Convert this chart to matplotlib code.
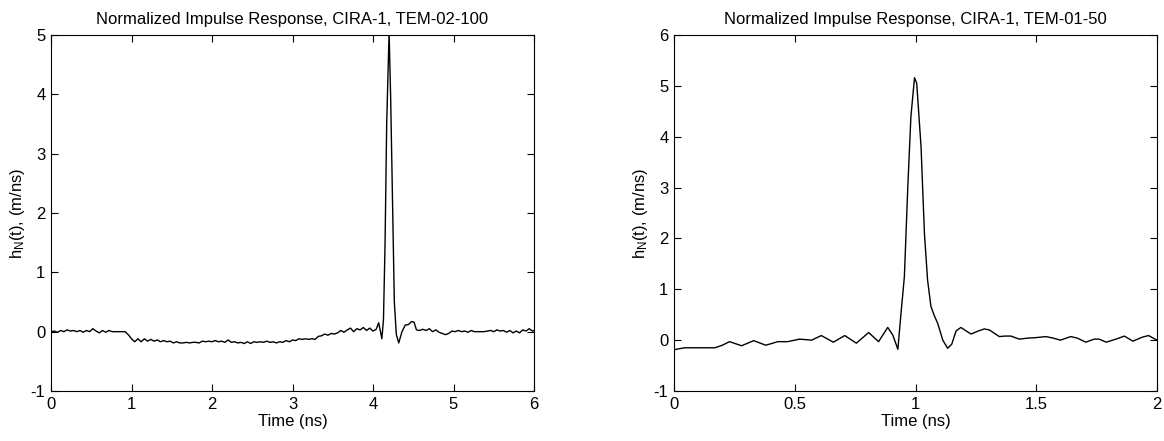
import matplotlib.pyplot as plt
from matplotlib.ticker import FormatStrFormatter

plt.rcParams['font.family'] = ['Liberation Sans', 'DejaVu Sans']
plt.rcParams['mathtext.fontset'] = 'custom'
plt.rcParams['mathtext.rm'] = 'Liberation Sans'
plt.rcParams['mathtext.it'] = 'Liberation Sans'
plt.rcParams['axes.unicode_minus'] = False

# TEM-02-100 impulse response
t_100 = [0.00, 0.04, 0.08, 0.12, 0.16, 0.20, 0.24, 0.28, 0.32, 0.36, 0.40, 0.44,
         0.48, 0.52, 0.56, 0.60, 0.64, 0.68, 0.72, 0.76, 0.80, 0.84, 0.88, 0.92,
         0.96, 1.00, 1.04, 1.08, 1.12, 1.16, 1.20, 1.24, 1.28, 1.32, 1.36, 1.40,
         1.44, 1.48, 1.52, 1.56, 1.60, 1.64, 1.68, 1.72, 1.76, 1.80, 1.84, 1.88,
         1.92, 1.96, 2.00, 2.04, 2.08, 2.12, 2.16, 2.20, 2.24, 2.28, 2.32, 2.36,
         2.40, 2.44, 2.48, 2.52, 2.56, 2.60, 2.64, 2.68, 2.72, 2.76, 2.80, 2.84,
         2.88, 2.92, 2.96, 3.00, 3.04, 3.08, 3.12, 3.16, 3.20, 3.24, 3.28, 3.32,
         3.36, 3.40, 3.44, 3.48, 3.52, 3.56, 3.60, 3.64, 3.68, 3.72, 3.76, 3.80,
         3.84, 3.88, 3.92, 3.96, 4.00, 4.04, 4.07, 4.09, 4.11, 4.13, 4.15, 4.17,
         4.20, 4.22, 4.245, 4.265, 4.29, 4.32, 4.36, 4.40, 4.44, 4.48, 4.51, 4.54,
         4.58, 4.62, 4.66, 4.70, 4.74, 4.78, 4.82, 4.86, 4.90, 4.94, 4.98, 5.02,
         5.06, 5.10, 5.14, 5.18, 5.22, 5.26, 5.30, 5.34, 5.38, 5.42, 5.46, 5.50,
         5.54, 5.58, 5.62, 5.66, 5.70, 5.74, 5.78, 5.82, 5.86, 5.90, 5.94, 5.98,
         6.00]
h_100 = [0.00, 0.01, -0.01, 0.02, 0.00, 0.03, 0.01, 0.02, 0.00, 0.02, -0.01, 0.02,
         0.00, 0.05, 0.01, -0.02, 0.02, -0.01, 0.02, 0.00, 0.00, 0.00, 0.00, 0.00,
         -0.05, -0.12, -0.17, -0.12, -0.17, -0.12, -0.16, -0.13, -0.16, -0.14, -0.17, -0.15,
         -0.17, -0.16, -0.19, -0.17, -0.19, -0.19, -0.18, -0.19, -0.18, -0.18, -0.19, -0.16,
         -0.17, -0.16, -0.17, -0.15, -0.17, -0.16, -0.18, -0.14, -0.18, -0.17, -0.19, -0.18,
         -0.20, -0.17, -0.20, -0.17, -0.18, -0.17, -0.18, -0.16, -0.18, -0.17, -0.19, -0.17,
         -0.18, -0.15, -0.17, -0.14, -0.15, -0.12, -0.13, -0.12, -0.13, -0.12, -0.13, -0.08,
         -0.07, -0.04, -0.06, -0.03, -0.04, -0.02, 0.02, -0.01, 0.03, 0.06, 0.00, 0.05,
         0.03, 0.07, 0.02, 0.06, 0.01, 0.04, 0.15, 0.02, -0.12, 0.20, 1.50, 3.50,
         5.05, 3.90, 2.00, 0.50, -0.05, -0.19, 0.00, 0.11, 0.12, 0.17, 0.16, 0.03,
         0.02, 0.04, 0.02, 0.05, 0.00, 0.03, -0.01, -0.03, -0.05, -0.03, 0.01, 0.00,
         0.02, 0.00, 0.01, -0.01, 0.02, 0.00, 0.00, 0.00, 0.00, 0.01, 0.02, 0.00,
         0.03, 0.01, 0.02, -0.01, 0.02, -0.02, 0.01, -0.02, 0.03, 0.01, 0.05, 0.01,
         0.02]

# TEM-01-50 impulse response
t_50 = [0.00, 0.02, 0.045, 0.10, 0.17, 0.20, 0.23, 0.28, 0.33, 0.38, 0.43, 0.47,
        0.52, 0.57, 0.61, 0.66, 0.707, 0.755, 0.806, 0.847, 0.885, 0.906, 0.927, 0.94,
        0.954, 0.968, 0.981, 0.996, 1.005, 1.023, 1.037, 1.05, 1.064, 1.078, 1.092, 1.113,
        1.133, 1.15, 1.168, 1.188, 1.21, 1.23, 1.26, 1.285, 1.306, 1.347, 1.37, 1.395,
        1.43, 1.465, 1.50, 1.54, 1.57, 1.60, 1.643, 1.67, 1.705, 1.74, 1.76, 1.79,
        1.83, 1.865, 1.90, 1.94, 1.965, 2.00]
h_50 = [-0.19, -0.17, -0.15, -0.15, -0.15, -0.10, -0.03, -0.11, -0.01, -0.10, -0.03, -0.03,
        0.02, 0.00, 0.09, -0.04, 0.09, -0.06, 0.15, -0.03, 0.25, 0.10, -0.18, 0.53,
        1.25, 3.00, 4.40, 5.16, 5.05, 3.80, 2.10, 1.18, 0.66, 0.48, 0.33, 0.00,
        -0.16, -0.08, 0.18, 0.25, 0.18, 0.12, 0.18, 0.22, 0.20, 0.07, 0.08, 0.08,
        0.02, 0.04, 0.05, 0.07, 0.04, 0.00, 0.07, 0.04, -0.04, 0.02, 0.02, -0.04,
        0.02, 0.08, -0.02, 0.06, 0.09, 0.00]

fig = plt.figure(figsize=(11.64, 4.41), dpi=100)
ax1 = fig.add_axes([51/1164, 50/441, 483/1164, 356/441])
ax2 = fig.add_axes([674/1164, 50/441, 483/1164, 356/441])

panels = [
    (ax1, t_100, h_100, 'TEM-02-100', (0, 6), (-1, 5), list(range(0, 7)), list(range(-1, 6))),
    (ax2, t_50, h_50, 'TEM-01-50', (0, 2), (-1, 6), [0, 0.5, 1, 1.5, 2], list(range(-1, 7))),
]

for ax, t, h, name, xl, yl, xt, yt in panels:
    ax.plot(t, h, color='black', linewidth=1.0)
    ax.set_xlim(*xl)
    ax.set_ylim(*yl)
    ax.set_xticks(xt)
    ax.set_yticks(yt)
    ax.xaxis.set_major_formatter(FormatStrFormatter('%g'))
    ax.tick_params(direction='in', top=True, right=True, length=5, width=0.8,
                   labelsize=12, pad=4)
    for s in ax.spines.values():
        s.set_linewidth(0.8)
    ax.set_title('Normalized Impulse Response, CIRA-1, ' + name, fontsize=12, pad=8)
    ax.set_xlabel('Time (ns)', fontsize=12, labelpad=2)
    ax.set_ylabel(r'h$_\mathregular{N}$(t), (m/ns)', fontsize=12, labelpad=3)

fig.savefig('out.png', dpi=100)
